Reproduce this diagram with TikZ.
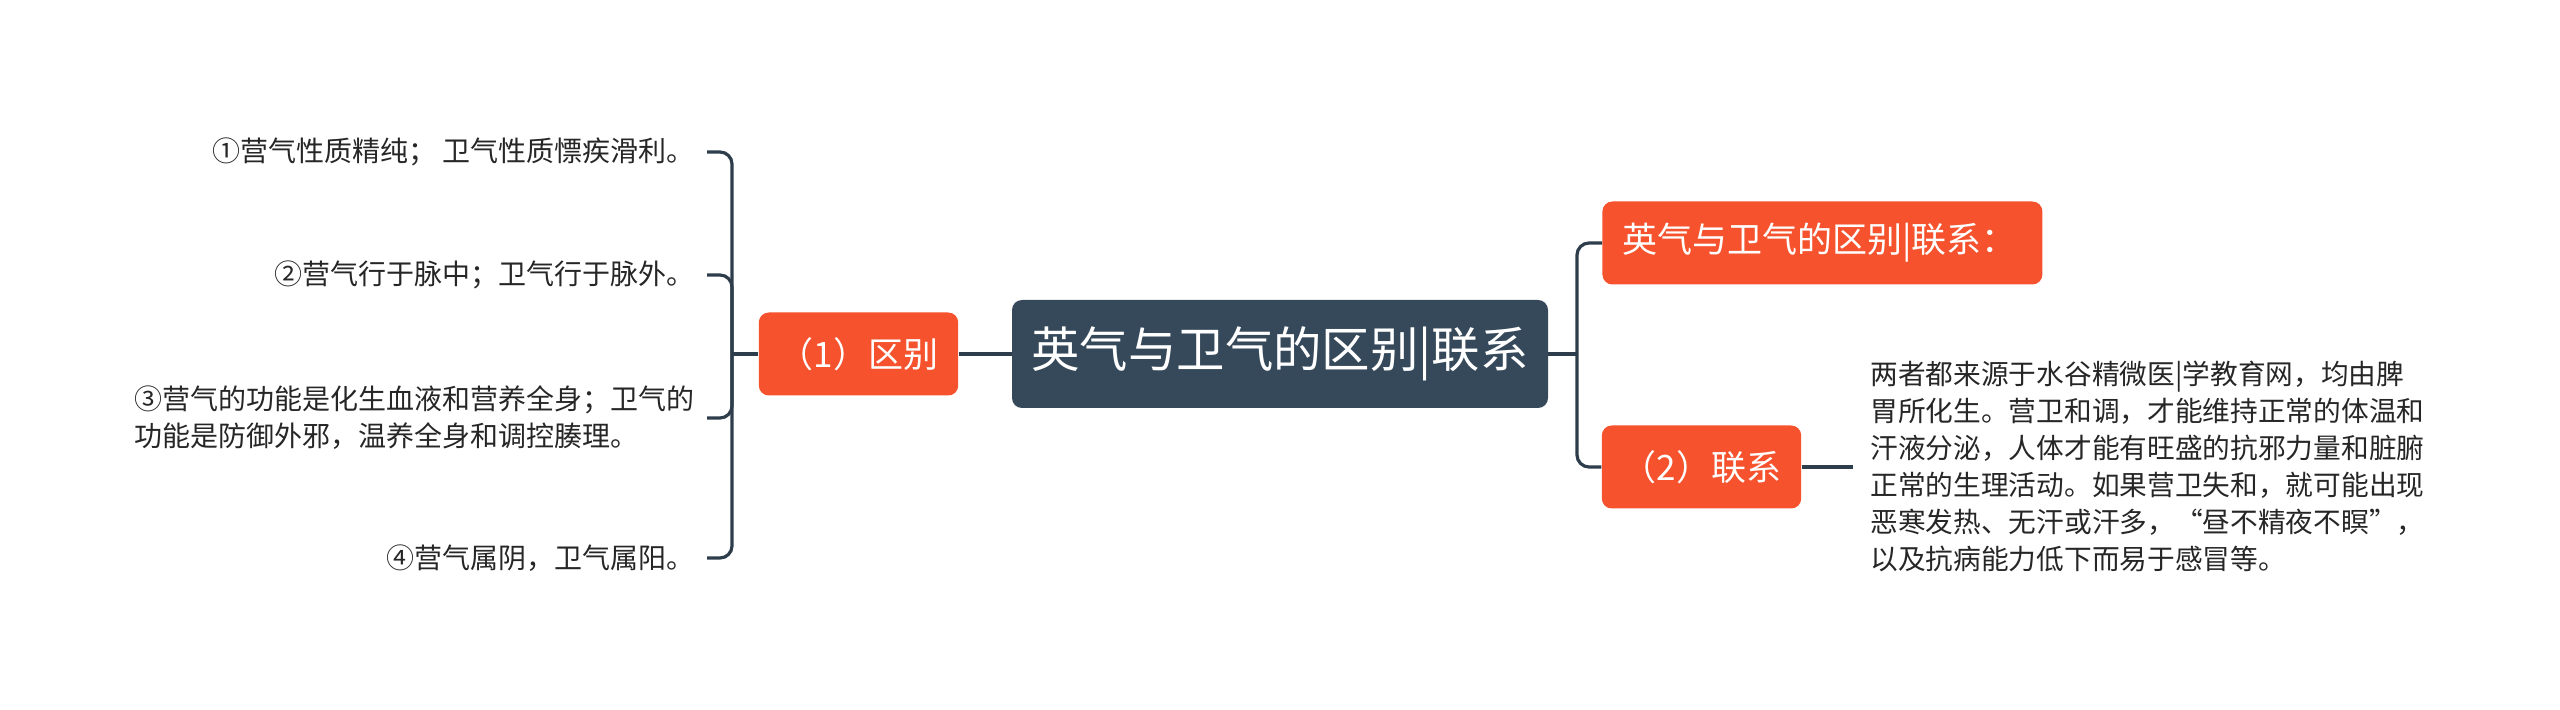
\documentclass[tikz,border=0pt]{standalone}
\usepackage{fontspec}
\newfontfamily\cjk{Noto Sans CJK SC}

\definecolor{slate}{HTML}{35495A}
\definecolor{flame}{HTML}{F5522D}
\definecolor{wire}{HTML}{2E3D4C}

\tikzset{
  topic/.style={rounded corners=5pt, fill=flame, text=white, font=\cjk\fontsize{17.5}{20}\selectfont, minimum height=41.5pt, inner xsep=10pt},
  leaf/.style={anchor=east, inner xsep=6pt, align=left, text=black!85, font=\cjk\fontsize{14}{18.5}\selectfont},
  wire/.style={draw=wire, line width=1.6pt},
  elbow/.style={wire, rounded corners=6pt}
}

\begin{document}
\begin{tikzpicture}[x=0.5pt, y=-0.5pt]
            \useasboundingbox (0,0) rectangle (2560,710);

            % centre and main branches
            \node[fill=slate, rounded corners=5pt, text=white, font=\cjk\fontsize{24.2}{28}\selectfont, minimum width=268pt, minimum height=54pt] (title) at (1280,354) {英气与卫气的区别|联系};
            \node[topic, minimum width=99.5pt] (diff) at (858.5,354) {（1）区别};
            \node[topic, anchor=west, text width=200pt, align=left] (summary) at (1602,243) {英气与卫气的区别|联系：};
            \node[topic, minimum width=98.5pt] (link) at (1701.5,467) {（2）联系};

            % leaves of (1)
            \node[leaf] (q1) at (707,152) {①营气性质精纯； 卫气性质慓疾滑利。};
            \node[leaf] (q2) at (707,275) {②营气行于脉中；卫气行于脉外。};
            \node[leaf] (q3) at (707,418) {③营气的功能是化生血液和营养全身；卫气的\\功能是防御外邪，温养全身和调控腠理。};
            \node[leaf] (q4) at (707,558) {④营气属阴，卫气属阳。};

            % text of (2)
            \node[leaf, anchor=west, inner xsep=8.5pt, font=\cjk\fontsize{13.85}{18.5}\selectfont] (detail) at (1853,466) {两者都来源于水谷精微医|学教育网，均由脾\\胃所化生。营卫和调，才能维持正常的体温和\\汗液分泌，人体才能有旺盛的抗邪力量和脏腑\\正常的生理活动。如果营卫失和，就可能出现\\恶寒发热、无汗或汗多，“昼不精夜不瞑”，\\以及抗病能力低下而易于感冒等。};

            \coordinate (jl) at (732,354);
            \coordinate (jr) at (1577,354);

            \draw[wire] (title.west) -- (diff.east);
            \draw[wire] (diff.west) -- (jl);
            \foreach \q in {q1,q2,q3,q4}
                \draw[elbow] (jl) |- (\q.east);

            \draw[wire] (title.east) -- (jr);
            \draw[elbow] (jr) |- (summary.west);
            \draw[elbow] (jr) |- (link.west);
            \draw[wire] (link.east) -- (link.east -| detail.west);
\end{tikzpicture}
\end{document}
